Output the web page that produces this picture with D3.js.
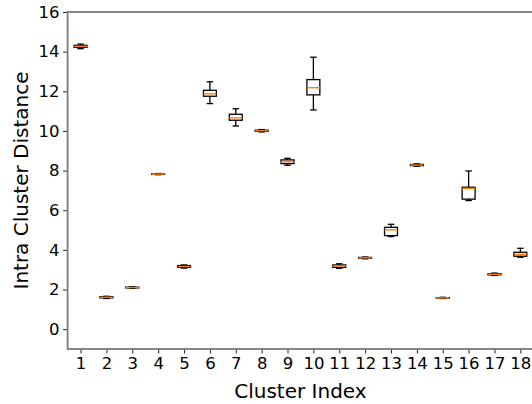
<!DOCTYPE html>
<html><head><meta charset="utf-8">
<script src="https://cdn.jsdelivr.net/npm/d3@7"></script>
<style>body{margin:0;background:#fff}svg{display:block}</style>
</head><body>
<svg id="c" width="532" height="404"></svg>
<script>
const clusters = [1,2,3,4,5,6,7,8,9,10,11,12,13,14,15,16,17,18];
const whiskerLow  = [14.15,1.55,2.06,7.79,3.08,11.38,10.25,9.95,8.27,11.06,3.07,3.55,4.67,8.22,1.55,6.49,2.71,3.63];
const q1          = [14.22,1.58,2.08,7.81,3.12,11.75,10.54,9.98,8.35,11.82,3.12,3.58,4.72,8.25,1.57,6.56,2.74,3.68];
const median      = [14.27,1.61,2.10,7.82,3.16,11.87,10.66,10.01,8.44,12.18,3.18,3.60,5.01,8.28,1.58,7.10,2.77,3.77];
const q3          = [14.32,1.64,2.12,7.83,3.21,12.05,10.84,10.04,8.54,12.59,3.24,3.62,5.14,8.31,1.59,7.16,2.80,3.88];
const whiskerHigh = [14.38,1.66,2.14,7.85,3.24,12.48,11.12,10.07,8.62,13.72,3.30,3.64,5.29,8.34,1.61,7.98,2.83,4.08];
const yTicks = [0,2,4,6,8,10,12,14,16];

const svg = d3.select("#c");
const L = 67.6, R = 533.3, T = 12, B = 349;
const x = d3.scaleLinear().domain([0.5, 18.5]).range([L, R]);
const y = d3.scaleLinear().domain([-1, 16]).range([B, T]);
const font = "DejaVu Sans, sans-serif";
const bw = (x(1) - x(0)) * 0.5;
const cw = bw * 0.5;

const data = clusters.map((c,i)=>({c, lo:whiskerLow[i], q1:q1[i], med:median[i], q3:q3[i], hi:whiskerHigh[i]}));
const g = svg.append("g");
const bx = g.selectAll("g.box").data(data).join("g").attr("class","box");
const lw = 1.3;
bx.append("line").attr("x1",d=>x(d.c)).attr("x2",d=>x(d.c)).attr("y1",d=>y(d.hi)).attr("y2",d=>y(d.q3)).attr("stroke","#000").attr("stroke-width",lw);
bx.append("line").attr("x1",d=>x(d.c)).attr("x2",d=>x(d.c)).attr("y1",d=>y(d.lo)).attr("y2",d=>y(d.q1)).attr("stroke","#000").attr("stroke-width",lw);
bx.append("line").attr("x1",d=>x(d.c)-cw/2).attr("x2",d=>x(d.c)+cw/2).attr("y1",d=>y(d.hi)).attr("y2",d=>y(d.hi)).attr("stroke","#000").attr("stroke-width",lw);
bx.append("line").attr("x1",d=>x(d.c)-cw/2).attr("x2",d=>x(d.c)+cw/2).attr("y1",d=>y(d.lo)).attr("y2",d=>y(d.lo)).attr("stroke","#000").attr("stroke-width",lw);
bx.append("rect").attr("x",d=>x(d.c)-bw/2).attr("width",bw).attr("y",d=>y(d.q3)).attr("height",d=>Math.max(0.01,y(d.q1)-y(d.q3))).attr("fill","none").attr("stroke","#000").attr("stroke-width",lw);
bx.append("line").attr("x1",d=>x(d.c)-bw/2).attr("x2",d=>x(d.c)+bw/2).attr("y1",d=>y(d.med)).attr("y2",d=>y(d.med)).attr("stroke","#ff7f0e").attr("stroke-width",1.4);

// axes
const yAxis = d3.axisLeft(y).tickValues(yTicks).tickSize(4.5).tickPadding(3.5).tickFormat(d3.format("d"));
const yg = svg.append("g").attr("transform",`translate(${L},0)`).call(yAxis);
const xAxis = d3.axisBottom(x).tickValues(clusters).tickSize(4.5).tickPadding(3.5).tickFormat(d3.format("d"));
const xg = svg.append("g").attr("transform",`translate(0,${B})`).call(xAxis);
[yg,xg].forEach(a=>{
  a.select(".domain").remove();
  a.selectAll(".tick line").attr("stroke","#222").attr("stroke-width",1);
  a.selectAll(".tick text").attr("fill","#000").style("font-family",font).style("font-size","16.5px");
});
// spines
svg.append("rect").attr("x",L).attr("y",T).attr("width",R-L).attr("height",B-T).attr("fill","none").attr("stroke","#7a7a7a").attr("stroke-width",1.8);

svg.append("text").attr("x",(L+R)/2).attr("y",398).attr("text-anchor","middle").style("font-family",font).style("font-size","20px").text("Cluster Index");
svg.append("text").attr("transform",`translate(28,${(T+B)/2}) rotate(-90)`).attr("text-anchor","middle").style("font-family",font).style("font-size","20px").text("Intra Cluster Distance");
</script>
</body></html>
